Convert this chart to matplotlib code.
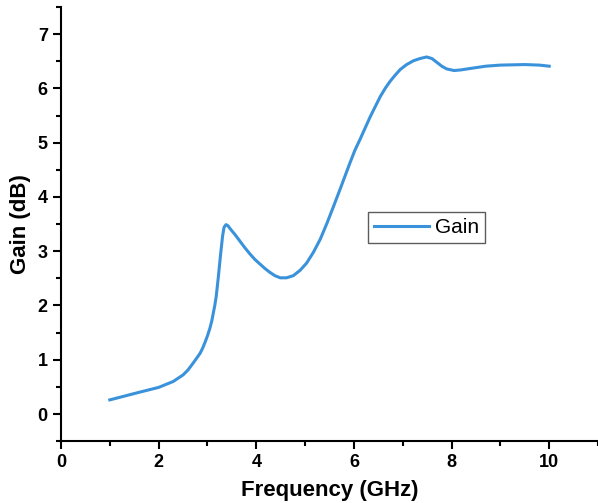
import matplotlib
matplotlib.use('Agg')
from matplotlib import pyplot as plt
from matplotlib.ticker import MultipleLocator

# Gain vs frequency
freq = [1.0, 1.3, 1.6, 2.0, 2.3, 2.5, 2.6, 2.7, 2.78, 2.85, 2.9, 2.95, 3.0, 3.05,
        3.09, 3.12, 3.15, 3.18, 3.22, 3.27, 3.31, 3.34, 3.38, 3.42, 3.46, 3.57,
        3.67, 3.77, 3.87, 3.97, 4.08, 4.18, 4.28, 4.38, 4.49, 4.62, 4.76, 4.9,
        5.03, 5.17, 5.31, 5.45, 5.58, 5.72, 5.82, 5.92, 6.02, 6.13, 6.23, 6.33,
        6.44, 6.54, 6.64, 6.74, 6.85, 6.95, 7.08, 7.22, 7.35, 7.49, 7.6, 7.7,
        7.8, 7.9, 8.05, 8.18, 8.4, 8.7, 9.0, 9.5, 9.8, 10.0]
gain = [0.26, 0.33, 0.40, 0.49, 0.60, 0.72, 0.81, 0.93, 1.03, 1.12, 1.21, 1.32, 1.44, 1.58,
        1.72, 1.86, 2.0, 2.17, 2.5, 2.95, 3.28, 3.44, 3.49, 3.47, 3.42, 3.30,
        3.18, 3.06, 2.95, 2.85, 2.76, 2.68, 2.61, 2.55, 2.51, 2.51, 2.55, 2.65,
        2.78, 2.98, 3.22, 3.52, 3.82, 4.15, 4.39, 4.63, 4.86, 5.07, 5.27, 5.47,
        5.67, 5.85, 6.00, 6.13, 6.25, 6.35, 6.44, 6.51, 6.55, 6.58, 6.55, 6.48,
        6.41, 6.36, 6.33, 6.34, 6.37, 6.41, 6.43, 6.44, 6.43, 6.41]

plt.rcParams['font.family'] = ['Liberation Sans', 'DejaVu Sans']

fig = plt.figure(figsize=(5.98, 5.03), dpi=100)
ax = fig.add_axes([0.102, 0.123, 0.898, 0.863])

ax.plot(freq, gain, color='#3A92DA', linewidth=2.2, label='Gain')

ax.set_xlim(0, 11)
ax.set_ylim(-0.5, 7.5)
ax.xaxis.set_major_locator(MultipleLocator(2))
ax.xaxis.set_minor_locator(MultipleLocator(1))
ax.yaxis.set_major_locator(MultipleLocator(1))
ax.yaxis.set_minor_locator(MultipleLocator(0.5))

ax.spines['top'].set_visible(False)
ax.spines['right'].set_visible(False)
for s in ['left', 'bottom']:
    ax.spines[s].set_linewidth(1.5)
ax.tick_params(which='major', direction='out', length=6, width=1.5, labelsize=13)
ax.tick_params(which='minor', direction='out', length=3.5, width=1.5)
for lbl in ax.get_xticklabels() + ax.get_yticklabels():
    lbl.set_fontweight('bold')

ax.set_xlabel('Frequency (GHz)', fontsize=16, fontweight='bold', labelpad=6)
ax.set_ylabel('Gain (dB)', fontsize=16, fontweight='bold', labelpad=5)

leg = ax.legend(loc='upper left', bbox_to_anchor=(0.572, 0.528), fontsize=15,
                frameon=True, fancybox=False, edgecolor='#333333',
                handlelength=2.6, handletextpad=0.3, borderpad=0.3,
                borderaxespad=0)
leg.get_frame().set_linewidth(1.0)

fig.savefig('out.png', dpi=100)
